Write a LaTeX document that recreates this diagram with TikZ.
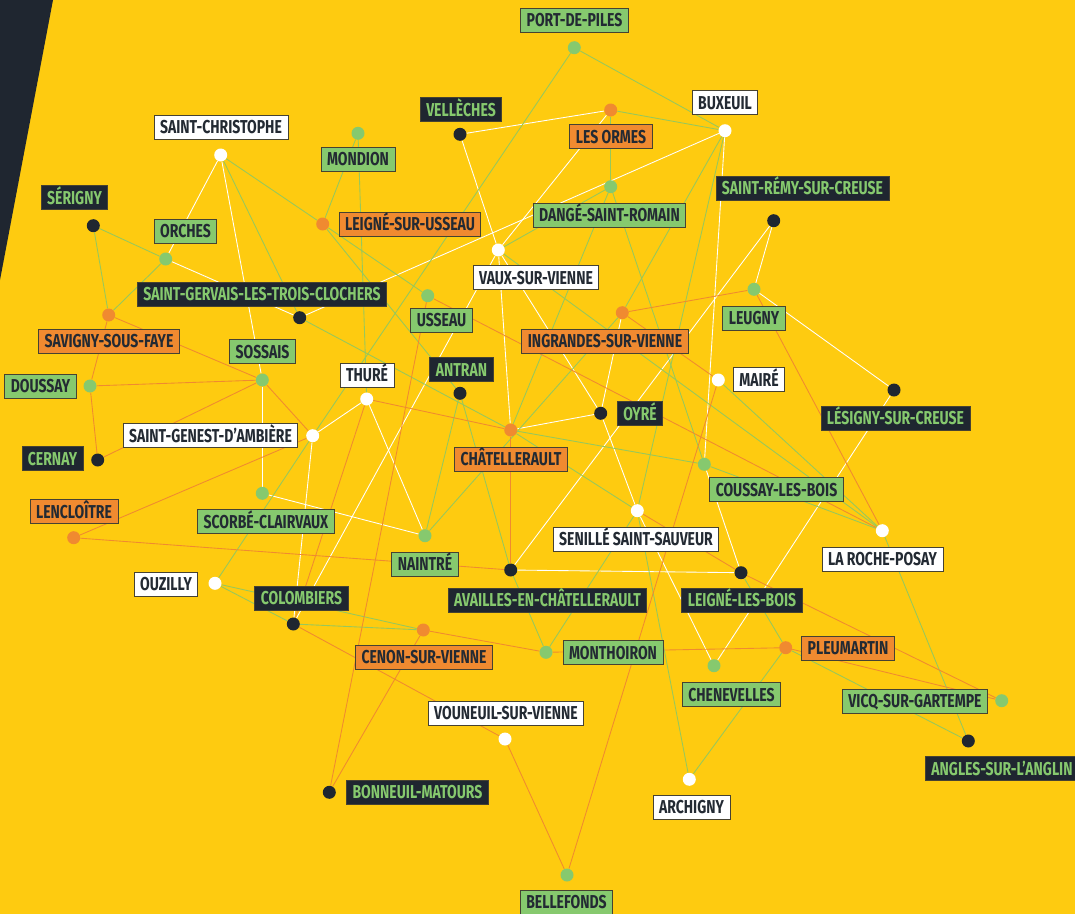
\documentclass[tikz,border=0pt]{standalone}
\usepackage{fontspec}
\newfontfamily\townfont[FakeStretch=0.75]{Fira Sans}
\usepackage{tikz}
\pgfdeclarelayer{bg}
\pgfsetlayers{bg,main}
\definecolor{bgyellow}{RGB}{254,203,16}
\definecolor{darkslate}{RGB}{31,38,48}
\definecolor{towngreen}{RGB}{134,201,110}
\definecolor{linkgreen}{RGB}{150,200,92}
\definecolor{townorange}{RGB}{240,138,48}
\definecolor{inkdark}{RGB}{35,42,51}
\definecolor{boxline}{RGB}{70,66,50}
\tikzset{
  box/.style={draw=boxline, line width=0.6pt, inner xsep=4.5pt, inner ysep=0pt,
    minimum height=18pt, text height=9.8pt, text depth=0pt, text=inkdark,
    font=\townfont\bfseries\fontsize{14pt}{14pt}\selectfont},
  wbox/.style={box, fill=white},
  gbox/.style={box, fill=towngreen},
  obox/.style={box, fill=townorange},
  kbox/.style={box, fill=darkslate, text=towngreen},
  dot/.style={circle, inner sep=0pt, minimum size=9.75pt},
  wdot/.style={dot, fill=white},
  gdot/.style={dot, fill=towngreen},
  odot/.style={dot, fill=townorange},
  kdot/.style={dot, fill=darkslate},
  wl/.style={white, line width=0.65pt},
  gl/.style={linkgreen, line width=0.65pt},
  ol/.style={townorange, line width=0.65pt}
}
\begin{document}
\begin{tikzpicture}[x=0.75pt, y=-0.75pt]
        \useasboundingbox (0,0) rectangle (1075,914);
        % towns: dot, then its name box
        \node (portdepiles) [gdot] at (574.3, 47.7) {};
        \node (lbl-portdepiles) [gbox] at (574.5, 20) {PORT-DE-PILES};
        \node (buxeuil) [wdot] at (725, 130.7) {};
        \node (lbl-buxeuil) [wbox] at (725, 102.5) {BUXEUIL};
        \node (lesormes) [odot] at (610.7, 110) {};
        \node (lbl-lesormes) [obox] at (611, 136.5) {LES ORMES};
        \node (velleches) [kdot] at (460, 134.3) {};
        \node (lbl-velleches) [kbox] at (461, 109.5) {VELLÈCHES};
        \node (stchristophe) [wdot] at (220.7, 155) {};
        \node (lbl-stchristophe) [wbox] at (221, 127) {SAINT-CHRISTOPHE};
        \node (mondion) [gdot] at (358, 133.3) {};
        \node (lbl-mondion) [gbox] at (358, 159) {MONDION};
        \node (dange) [gdot] at (610.7, 186.7) {};
        \node (lbl-dange) [gbox] at (609.5, 215) {DANGÉ-SAINT-ROMAIN};
        \node (stremy) [kdot] at (773.7, 220.7) {};
        \node (lbl-stremy) [kbox] at (802.5, 188) {SAINT-RÉMY-SUR-CREUSE};
        \node (serigny) [kdot] at (93.3, 225.7) {};
        \node (lbl-serigny) [kbox] at (74.5, 197.5) {SÉRIGNY};
        \node (leigneusseau) [odot] at (322.7, 224) {};
        \node (lbl-leigneusseau) [obox] at (410, 224) {LEIGNÉ-SUR-USSEAU};
        \node (orches) [gdot] at (165.7, 259) {};
        \node (lbl-orches) [gbox] at (185.5, 231) {ORCHES};
        \node (vaux) [wdot] at (498.3, 250) {};
        \node (lbl-vaux) [wbox] at (536, 277.5) {VAUX-SUR-VIENNE};
        \node (stgervais) [kdot] at (299.7, 317.7) {};
        \node (lbl-stgervais) [kbox] at (262, 294) {SAINT-GERVAIS-LES-TROIS-CLOCHERS};
        \node (usseau) [gdot] at (427.7, 295.7) {};
        \node (lbl-usseau) [gbox] at (441.5, 320) {USSEAU};
        \node (leugny) [gdot] at (754, 289.3) {};
        \node (lbl-leugny) [gbox] at (754, 318) {LEUGNY};
        \node (ingrandes) [odot] at (622.3, 312.7) {};
        \node (lbl-ingrandes) [obox] at (605, 341) {INGRANDES-SUR-VIENNE};
        \node (savigny) [odot] at (108.7, 315) {};
        \node (lbl-savigny) [obox] at (109, 341) {SAVIGNY-SOUS-FAYE};
        \node (sossais) [gdot] at (262.3, 380) {};
        \node (lbl-sossais) [gbox] at (262.5, 351.5) {SOSSAIS};
        \node (doussay) [gdot] at (90, 386) {};
        \node (lbl-doussay) [gbox] at (40.5, 386) {DOUSSAY};
        \node (thure) [wdot] at (366.7, 399) {};
        \node (lbl-thure) [wbox] at (367, 375) {THURÉ};
        \node (antran) [kdot] at (460, 393.3) {};
        \node (lbl-antran) [kbox] at (461.5, 369.5) {ANTRAN};
        \node (maire) [wdot] at (718.3, 380) {};
        \node (lbl-maire) [wbox] at (759, 379.5) {MAIRÉ};
        \node (lesigny) [kdot] at (894, 390) {};
        \node (lbl-lesigny) [kbox] at (895.5, 418) {LÉSIGNY-SUR-CREUSE};
        \node (oyre) [kdot] at (600.7, 413.3) {};
        \node (lbl-oyre) [kbox] at (640, 413.5) {OYRÉ};
        \node (stgenest) [wdot] at (312.7, 435.7) {};
        \node (lbl-stgenest) [wbox] at (210.5, 435.5) {SAINT-GENEST-D’AMBIÈRE};
        \node (chatellerault) [odot] at (510.7, 430) {};
        \node (lbl-chatellerault) [obox] at (511, 459) {CHÂTELLERAULT};
        \node (cernay) [kdot] at (97.7, 460) {};
        \node (lbl-cernay) [kbox] at (52.5, 458.5) {CERNAY};
        \node (coussay) [gdot] at (704.3, 464.3) {};
        \node (lbl-coussay) [gbox] at (776.5, 489.5) {COUSSAY-LES-BOIS};
        \node (lencloitre) [odot] at (73.7, 537.7) {};
        \node (lbl-lencloitre) [obox] at (74, 511.5) {LENCLOÎTRE};
        \node (scorbe) [gdot] at (262.3, 493.3) {};
        \node (lbl-scorbe) [gbox] at (266, 521.5) {SCORBÉ-CLAIRVAUX};
        \node (naintre) [gdot] at (425, 535.7) {};
        \node (lbl-naintre) [gbox] at (425, 564) {NAINTRÉ};
        \node (senille) [wdot] at (637.3, 510.7) {};
        \node (lbl-senille) [wbox] at (636, 539) {SENILLÉ SAINT-SAUVEUR};
        \node (rocheposay) [wdot] at (882.3, 530.7) {};
        \node (lbl-rocheposay) [wbox] at (882.5, 559) {LA ROCHE-POSAY};
        \node (ouzilly) [wdot] at (215, 583.3) {};
        \node (lbl-ouzilly) [wbox] at (166, 584) {OUZILLY};
        \node (availles) [kdot] at (510.7, 570) {};
        \node (lbl-availles) [kbox] at (547.5, 600) {AVAILLES-EN-CHÂTELLERAULT};
        \node (leignebois) [kdot] at (741, 572.7) {};
        \node (lbl-leignebois) [kbox] at (742, 600) {LEIGNÉ-LES-BOIS};
        \node (colombiers) [kdot] at (293.3, 624) {};
        \node (lbl-colombiers) [kbox] at (301.5, 598) {COLOMBIERS};
        \node (cenon) [odot] at (423.3, 630) {};
        \node (lbl-cenon) [obox] at (424, 657) {CENON-SUR-VIENNE};
        \node (monthoiron) [gdot] at (546, 652.3) {};
        \node (lbl-monthoiron) [gbox] at (613, 652.5) {MONTHOIRON};
        \node (pleumartin) [odot] at (785.7, 647.7) {};
        \node (lbl-pleumartin) [obox] at (848, 648) {PLEUMARTIN};
        \node (chenevelles) [gdot] at (714, 665.7) {};
        \node (lbl-chenevelles) [gbox] at (731.5, 694.5) {CHENEVELLES};
        \node (vicq) [gdot] at (1001.7, 700.7) {};
        \node (lbl-vicq) [gbox] at (915, 701) {VICQ-SUR-GARTEMPE};
        \node (vouneuil) [wdot] at (505, 739) {};
        \node (lbl-vouneuil) [wbox] at (506, 713) {VOUNEUIL-SUR-VIENNE};
        \node (angles) [kdot] at (968.3, 741) {};
        \node (lbl-angles) [kbox] at (1002, 768.5) {ANGLES-SUR-L’ANGLIN};
        \node (archigny) [wdot] at (689.3, 779.3) {};
        \node (lbl-archigny) [wbox] at (691.5, 807) {ARCHIGNY};
        \node (bonneuil) [kdot] at (329.3, 792.3) {};
        \node (lbl-bonneuil) [kbox] at (417.5, 792) {BONNEUIL-MATOURS};
        \node (bellefonds) [gdot] at (567, 875) {};
        \node (lbl-bellefonds) [gbox] at (566.5, 902) {BELLEFONDS};
        \begin{pgfonlayer}{bg}
                \fill [bgyellow] (0,0) rectangle (1075,914);
                \fill [darkslate] (0,0) -- (53,0) -- (0,280) -- cycle;
                % white links
                \draw (stchristophe) edge [wl] (orches);
                \draw (stchristophe) edge [wl] (sossais);
                \draw (orches) edge [wl] (stgervais);
                \draw (stgervais) edge [wl] (buxeuil);
                \draw (velleches) edge [wl] (lesormes);
                \draw (velleches) edge [wl] (vaux);
                \draw (lesormes) edge [wl] (vaux);
                \draw (vaux) edge [wl] (chatellerault);
                \draw (vaux) edge [wl] (colombiers);
                \draw (vaux) edge [wl] (oyre);
                \draw (sossais) edge [wl] (scorbe);
                \draw (stgenest) edge [wl] (thure);
                \draw (stgenest) edge [wl] (colombiers);
                \draw (thure) edge [wl] (naintre);
                \draw (scorbe) edge [wl] (naintre);
                \draw (oyre) edge [wl] (senille);
                \draw (chatellerault) edge [wl] (oyre);
                \draw (ingrandes) edge [wl] (oyre);
                \draw (buxeuil) edge [wl] (coussay);
                \draw (stremy) edge [wl] (leugny);
                \draw (stremy) edge [wl] (availles);
                \draw (leugny) edge [wl] (lesigny);
                \draw (availles) edge [wl] (leignebois);
                \draw (coussay) edge [wl] (leignebois);
                \draw (senille) edge [wl] (chenevelles);
                \draw (chenevelles) edge [wl] (lesigny);
                % green links
                \draw (stchristophe) edge [gl] (stgervais);
                \draw (stchristophe) edge [gl] (leigneusseau);
                \draw (serigny) edge [gl] (orches);
                \draw (serigny) edge [gl] (savigny);
                \draw (orches) edge [gl] (savigny);
                \draw (mondion) edge [gl] (leigneusseau);
                \draw (mondion) edge [gl] (thure);
                \draw (stgervais) edge [gl] (chatellerault);
                \draw (portdepiles) edge [gl] (buxeuil);
                \draw (portdepiles) edge [gl] (stgenest);
                \draw (ouzilly) edge [gl] (stgenest);
                \draw (lesormes) edge [gl] (buxeuil);
                \draw (lesormes) edge [gl] (dange);
                \draw (dange) edge [gl] (vaux);
                \draw (dange) edge [gl] (chatellerault);
                \draw (dange) edge [gl] (coussay);
                \draw (buxeuil) edge [gl] (ingrandes);
                \draw (buxeuil) edge [gl] (senille);
                \draw (leigneusseau) edge [gl] (usseau);
                \draw (leigneusseau) edge [gl] (antran);
                \draw (antran) edge [gl] (naintre);
                \draw (antran) edge [gl] (availles);
                \draw (naintre) edge [gl] (ingrandes);
                \draw (chatellerault) edge [gl] (coussay);
                \draw (chatellerault) edge [gl] (senille);
                \draw (vaux) edge [gl] (rocheposay);
                \draw (maire) edge [gl] (rocheposay);
                \draw (coussay) edge [gl] (rocheposay);
                \draw (ouzilly) edge [gl] (colombiers);
                \draw (ouzilly) edge [gl] (cenon);
                \draw (colombiers) edge [gl] (cenon);
                \draw (availles) edge [gl] (monthoiron);
                \draw (monthoiron) edge [gl] (senille);
                \draw (senille) edge [gl] (archigny);
                \draw (leignebois) edge [gl] (pleumartin);
                \draw (pleumartin) edge [gl] (archigny);
                \draw (pleumartin) edge [gl] (angles);
                \draw (rocheposay) edge [gl] (angles);
                % orange links
                \draw (savigny) edge [ol] (sossais);
                \draw (savigny) edge [ol] (doussay);
                \draw (doussay) edge [ol] (sossais);
                \draw (doussay) edge [ol] (cernay);
                \draw (cernay) edge [ol] (sossais);
                \draw (sossais) edge [ol] (stgenest);
                \draw (lencloitre) edge [ol] (stgenest);
                \draw (lencloitre) edge [ol] (availles);
                \draw (thure) edge [ol] (chatellerault);
                \draw (thure) edge [ol] (colombiers);
                \draw (usseau) edge [ol] (rocheposay);
                \draw (usseau) edge [ol] (bonneuil);
                \draw (chatellerault) edge [ol] (availles);
                \draw (leugny) edge [ol] (ingrandes);
                \draw (leugny) edge [ol] (rocheposay);
                \draw (ingrandes) edge [ol] (maire);
                \draw (maire) edge [ol] (bellefonds);
                \draw (colombiers) edge [ol] (vouneuil);
                \draw (vouneuil) edge [ol] (bellefonds);
                \draw (cenon) edge [ol] (monthoiron);
                \draw (cenon) edge [ol] (bonneuil);
                \draw (monthoiron) edge [ol] (pleumartin);
                \draw (senille) edge [ol] (leignebois);
                \draw (leignebois) edge [ol] (vicq);
                \draw (pleumartin) edge [ol] (vicq);
        \end{pgfonlayer}
\end{tikzpicture}
\end{document}
